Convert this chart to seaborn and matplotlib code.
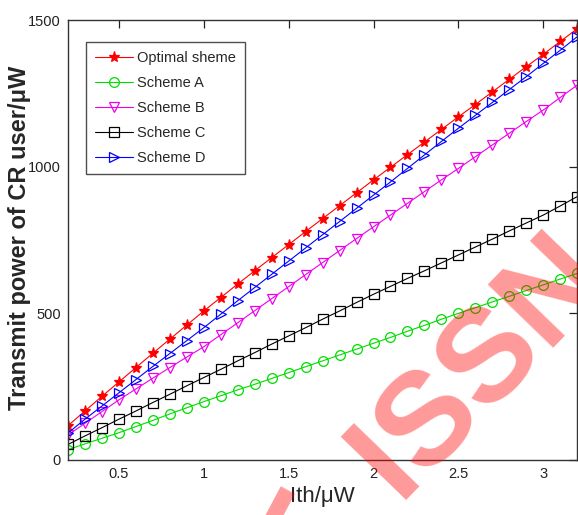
import numpy as np
import pandas as pd
import seaborn as sns
import matplotlib.pyplot as plt

ith = [0.2, 0.3, 0.4, 0.5, 0.6, 0.7, 0.8, 0.9, 1.0, 1.1, 1.2, 1.3, 1.4, 1.5, 1.6,
       1.7, 1.8, 1.9, 2.0, 2.1, 2.2, 2.3, 2.4, 2.5, 2.6, 2.7, 2.8, 2.9, 3.0, 3.1, 3.2]

optimal = [117, 167, 217, 266, 315, 364, 412, 460, 508, 554, 600, 645, 690, 734, 779,
           823, 867, 911, 955, 998, 1041, 1084, 1127, 1170, 1212, 1255, 1298, 1341, 1383, 1427, 1470]
scheme_a = [35, 55, 74, 93, 114, 135, 157, 178, 199, 219, 239, 258, 278, 298, 318,
            338, 358, 378, 398, 418, 439, 459, 480, 500, 519, 539, 558, 578, 597, 617, 636]
scheme_b = [85, 125, 165, 205, 242, 279, 315, 351, 386, 427, 468, 509, 550, 591, 632,
            673, 714, 755, 795, 835, 875, 915, 955, 994, 1034, 1074, 1114, 1154, 1193, 1236, 1278]
scheme_c = [53, 82, 110, 139, 167, 196, 224, 253, 281, 309, 338, 366, 395, 423, 451,
            480, 508, 537, 565, 592, 619, 645, 672, 699, 726, 753, 781, 808, 835, 866, 898]
scheme_d = [92, 139, 184, 229, 274, 319, 363, 407, 451, 497, 543, 588, 633, 678, 723,
            768, 813, 858, 903, 948, 994, 1040, 1086, 1131, 1175, 1219, 1263, 1307, 1352, 1397, 1443]

names = ['Optimal sheme', 'Scheme A', 'Scheme B', 'Scheme C', 'Scheme D']
series = [optimal, scheme_a, scheme_b, scheme_c, scheme_d]
colors = ['#ff0000', '#00dd00', '#ee00ee', '#000000', '#0000ff']
markers = ['*', 'o', 'v', 's', '>']

sns.set_style("white")
plt.rcParams['font.family'] = ['Liberation Sans', 'DejaVu Sans']

fig = plt.figure(figsize=(5.78, 5.15), dpi=100)
ax = fig.add_axes([0.1176, 0.1068, 0.881, 0.8543])

for name, vals, c, m in zip(names, series, colors, markers):
    df = pd.DataFrame({'ith': ith, 'p': vals})
    sns.lineplot(data=df, x='ith', y='p', ax=ax, color=c, marker=m, label=name,
                 linewidth=0.8, markersize=7 if m != '*' else 8,
                 markerfacecolor='none' if m != '*' else c,
                 markeredgecolor=c, markeredgewidth=0.9)

ax.set_xlim(0.2, 3.2)
ax.set_ylim(0, 1500)
ax.set_xticks([0.5, 1, 1.5, 2, 2.5, 3])
ax.set_xticklabels(['0.5', '1', '1.5', '2', '2.5', '3'])
ax.set_yticks([0, 500, 1000, 1500])
ax.tick_params(direction='in', length=6, width=0.9, top=True, right=True,
               labelsize=10.5, colors='#222222', pad=5)
for s in ax.spines.values():
    s.set_color('#333333')
    s.set_linewidth(1.0)

ax.set_xlabel('Ith/μW', fontsize=16, labelpad=4)
ax.set_ylabel('Transmit power of CR user/μW', fontsize=17, fontweight='bold')
ax.yaxis.set_label_coords(-0.072, 0.505)

leg = ax.legend(loc='upper left', bbox_to_anchor=(0.035, 0.95), fontsize=10.5,
                frameon=True, fancybox=False, edgecolor='#222222', handlelength=2.6,
                handletextpad=0.3, borderpad=0.62, labelspacing=0.76, borderaxespad=0)
leg.get_frame().set_linewidth(1.0)

# watermark
fig.text(0.83, 0.29, 'ISSN', color='red', alpha=0.4, fontsize=95,
         fontweight='bold', rotation=46, ha='center', va='center', zorder=10)
fig.text(0.48, 0.03, '-', color='red', alpha=0.4, fontsize=95,
         fontweight='bold', rotation=62, ha='center', va='center', zorder=10)

fig.savefig('out.png', dpi=100)
